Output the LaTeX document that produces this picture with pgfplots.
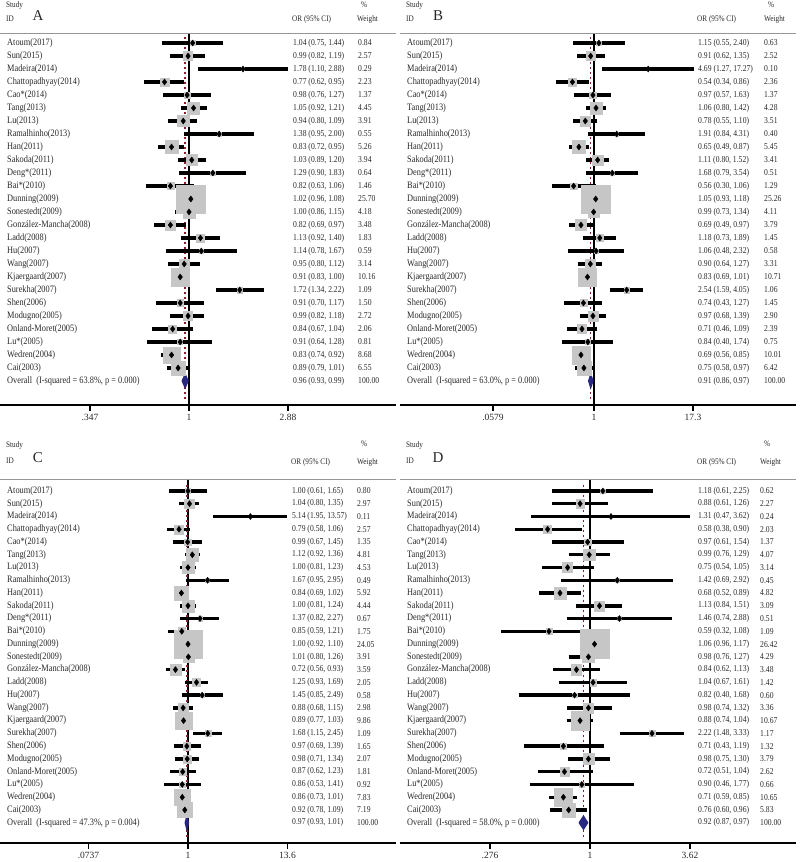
\documentclass[border=0pt]{standalone}
\usepackage{fontspec}
\setmainfont{Liberation Serif}[FakeStretch=0.85]
\newfontfamily\tickfont{Liberation Serif}
\usepackage{pgfplots}
\pgfplotsset{compat=1.18}
\usepackage{pgfplotstable}
\pgfkeys{/pgf/number format/assume math mode=true}
\definecolor{boxgray}{RGB}{198,198,198}
\definecolor{ovnavy}{RGB}{40,40,130}
\definecolor{refred}{RGB}{140,30,45}
\definecolor{txt}{RGB}{40,40,40}
\definecolor{rulegray}{RGB}{150,150,150}
\newcommand\namefont{\fontsize{9.8}{11}\selectfont}
\newcommand\numfont{\fontsize{9}{10}\selectfont}
\newcommand\pn[1]{\pgfmathprintnumber[fixed zerofill,precision=2]{#1}}

\pgfplotstableread{
row name
1 Atoum(2017)
2 Sun(2015)
3 Madeira(2014)
4 Chattopadhyay(2014)
5 Cao*(2014)
6 Tang(2013)
7 Lu(2013)
8 Ramalhinho(2013)
9 Han(2011)
10 Sakoda(2011)
11 Deng*(2011)
12 Bai*(2010)
13 Dunning(2009)
14 Sonestedt(2009)
15 González-Mancha(2008)
16 Ladd(2008)
17 Hu(2007)
18 Wang(2007)
19 Kjaergaard(2007)
20 Surekha(2007)
21 Shen(2006)
22 Modugno(2005)
23 Onland-Moret(2005)
24 Lu*(2005)
25 Wedren(2004)
26 Cai(2003)
}\names

\pgfplotstableread{
row est lo hi w
1 1.04 0.75 1.44 0.84
2 0.99 0.82 1.19 2.57
3 1.78 1.10 2.88 0.29
4 0.77 0.62 0.95 2.23
5 0.98 0.76 1.27 1.37
6 1.05 0.92 1.21 4.45
7 0.94 0.80 1.09 3.91
8 1.38 0.95 2.00 0.55
9 0.83 0.72 0.95 5.26
10 1.03 0.89 1.20 3.94
11 1.29 0.90 1.83 0.64
12 0.82 0.63 1.06 1.46
13 1.02 0.96 1.08 25.70
14 1.00 0.86 1.15 4.18
15 0.82 0.69 0.97 3.48
16 1.13 0.92 1.40 1.83
17 1.14 0.78 1.67 0.59
18 0.95 0.80 1.12 3.14
19 0.91 0.83 1.00 10.16
20 1.72 1.34 2.22 1.09
21 0.91 0.70 1.17 1.50
22 0.99 0.82 1.18 2.72
23 0.84 0.67 1.04 2.06
24 0.91 0.64 1.28 0.81
25 0.83 0.74 0.92 8.68
26 0.89 0.79 1.01 6.55
}\tabA
\pgfplotstableread{
row est lo hi w
27 0.96 0.93 0.99 100.00
}\ovA

\pgfplotstableread{
row est lo hi w
1 1.15 0.55 2.40 0.63
2 0.91 0.62 1.35 2.52
3 4.69 1.27 17.27 0.10
4 0.54 0.34 0.86 2.36
5 0.97 0.57 1.63 1.37
6 1.06 0.80 1.42 4.28
7 0.78 0.55 1.10 3.51
8 1.91 0.84 4.31 0.40
9 0.65 0.49 0.87 5.45
10 1.11 0.80 1.52 3.41
11 1.68 0.79 3.54 0.51
12 0.56 0.30 1.06 1.29
13 1.05 0.93 1.18 25.26
14 0.99 0.73 1.34 4.11
15 0.69 0.49 0.97 3.79
16 1.18 0.73 1.89 1.45
17 1.06 0.48 2.32 0.58
18 0.90 0.64 1.27 3.31
19 0.83 0.69 1.01 10.71
20 2.54 1.59 4.05 1.06
21 0.74 0.43 1.27 1.45
22 0.97 0.68 1.39 2.90
23 0.71 0.46 1.09 2.39
24 0.84 0.40 1.74 0.75
25 0.69 0.56 0.85 10.01
26 0.75 0.58 0.97 6.42
}\tabB
\pgfplotstableread{
row est lo hi w
27 0.91 0.86 0.97 100.00
}\ovB

\pgfplotstableread{
row est lo hi w
1 1.00 0.61 1.65 0.80
2 1.04 0.80 1.35 2.97
3 5.14 1.95 13.57 0.11
4 0.79 0.58 1.06 2.57
5 0.99 0.67 1.45 1.35
6 1.12 0.92 1.36 4.81
7 1.00 0.81 1.23 4.53
8 1.67 0.95 2.95 0.49
9 0.84 0.69 1.02 5.92
10 1.00 0.81 1.24 4.44
11 1.37 0.82 2.27 0.67
12 0.85 0.59 1.21 1.75
13 1.00 0.92 1.10 24.05
14 1.01 0.80 1.26 3.91
15 0.72 0.56 0.93 3.59
16 1.25 0.93 1.69 2.05
17 1.45 0.85 2.49 0.58
18 0.88 0.68 1.15 2.98
19 0.89 0.77 1.03 9.86
20 1.68 1.15 2.45 1.09
21 0.97 0.69 1.39 1.65
22 0.98 0.71 1.34 2.07
23 0.87 0.62 1.23 1.81
24 0.86 0.53 1.41 0.92
25 0.86 0.73 1.01 7.83
26 0.92 0.78 1.09 7.19
}\tabC
\pgfplotstableread{
row est lo hi w
27 0.97 0.93 1.01 100.00
}\ovC

\pgfplotstableread{
row est lo hi w
1 1.18 0.61 2.25 0.62
2 0.88 0.61 1.26 2.27
3 1.31 0.47 3.62 0.24
4 0.58 0.38 0.90 2.03
5 0.97 0.61 1.54 1.37
6 0.99 0.76 1.29 4.07
7 0.75 0.54 1.05 3.14
8 1.42 0.69 2.92 0.45
9 0.68 0.52 0.89 4.82
10 1.13 0.84 1.51 3.09
11 1.46 0.74 2.88 0.51
12 0.59 0.32 1.08 1.09
13 1.06 0.96 1.17 26.42
14 0.98 0.76 1.27 4.29
15 0.84 0.62 1.13 3.48
16 1.04 0.67 1.61 1.42
17 0.82 0.40 1.68 0.60
18 0.98 0.74 1.32 3.36
19 0.88 0.74 1.04 10.67
20 2.22 1.48 3.33 1.17
21 0.71 0.43 1.19 1.32
22 0.98 0.75 1.30 3.79
23 0.72 0.51 1.04 2.62
24 0.90 0.46 1.77 0.66
25 0.71 0.59 0.85 10.65
26 0.76 0.60 0.96 5.83
}\tabD
\pgfplotstableread{
row est lo hi w
27 0.92 0.87 0.97 100.00
}\ovD

\pgfplotsset{
  forest/.style={scale only axis, width=396pt, xmin=0, xmax=396, clip=false,
    anchor=north west,
    axis x line*=bottom, axis y line=none,
    x axis line style={line width=1.8pt, black},
    xtick style={line width=1.6pt, black},
    tick align=outside, major tick length=6pt,
    xticklabel style={font=\tickfont\fontsize{9.5}{10}\selectfont, text=txt},
    y filter/.expression={-y}},
  orx/.style={x filter/.expression={\Cx+\Sx*ln(x)/\Lm}},
  boxes/.style={scatter, only marks, mark=square*,
    scatter/use mapped color={draw=boxgray, fill=boxgray},
    visualization depends on={2.8*sqrt(\thisrow{w}) \as \msz},
    scatter/@pre marker code/.append style={/tikz/mark size=\msz}},
  cilines/.style={mark=none, black, line width=3.4pt, -,
    quiver={u={\Sx*(ln(\thisrow{hi})-ln(\thisrow{lo}))/\Lm}, v=0},
    quiver/every arrow/.append style={line width=3.4pt, -}},
  pts/.style={only marks, mark=diamond*, mark size=3pt, black},
  txtbase/.style={only marks, mark=*, mark size=0pt, mark options={draw=none, fill=none},
    every node near coord/.append style={anchor=west, inner sep=0pt, text=txt}},
  namecol/.style={txtbase, point meta=explicit symbolic, nodes near coords,
    every node near coord/.append style={font=\namefont}},
  orcol/.style={txtbase,
    visualization depends on={\thisrow{est} \as \orv},
    visualization depends on={\thisrow{lo} \as \lov},
    visualization depends on={\thisrow{hi} \as \hiv},
    nodes near coords={\pn{\orv} (\pn{\lov}, \pn{\hiv})},
    every node near coord/.append style={font=\numfont}},
  wcol/.style={txtbase,
    visualization depends on={\thisrow{w} \as \wv},
    nodes near coords={\pn{\wv}},
    every node near coord/.append style={font=\numfont}},
}

\newcommand\panelplots[9]{%
  \addplot[boxes] table[x expr={\Cx+\Sx*ln(\thisrow{est})/\Lm}, y=row]{#1};
  \addplot[orx, black, line width=2pt] coordinates {(1,#6) (1,#7)};
  \addplot[orx, refred, line width=1.6pt, dash pattern=on 2.5pt off 2.5pt] coordinates {(#3,0.5) (#3,#7-0.3)};
  \addplot[cilines] table[x expr={\Cx+\Sx*ln(\thisrow{lo})/\Lm}, y=row]{#1};
  \addplot[pts] table[x expr={\Cx+\Sx*ln(\thisrow{est})/\Lm}, y=row]{#1};
  \addplot[orx, draw=ovnavy, fill=ovnavy, line width=1.4pt] coordinates {(#4,27) (#3,26.5) (#5,27) (#3,27.5) (#4,27)};
  \addplot[namecol] table[x expr=7, y=row, meta=name]{\names};
  \addplot[orcol] table[x expr=#8, y=row]{#1};
  \addplot[orcol] table[x expr=#8, y=row]{#2};
  \addplot[wcol] table[x expr=#9, y=row]{#1};
  \addplot[wcol] table[x expr=#9, y=row]{#2};
}

\begin{document}
\begin{tikzpicture}
\path[use as bounding box] (0pt,0pt) rectangle (800pt,-862pt);

% ---------- A ----------
\def\Cx{189}\def\Sx{99}\def\Lm{1.05779}
\begin{axis}[forest, at={(0pt,0pt)}, height=405pt, ymin=-28.85, ymax=2.31,
  xtick={90,189,288}, xticklabels={.347,1,2.88}]
  \panelplots{\tabA}{\ovA}{0.96}{0.93}{0.99}{0.23}{28.85}{293}{358}
  \node[anchor=west, inner sep=0pt, text=txt, font=\namefont] at (axis cs:7,-27) {Overall\ \ (I-squared = 63.8\%, p = 0.000)};
\end{axis}

% ---------- B ----------
\def\Cx{194}\def\Sx{100}\def\Lm{2.85071}
\begin{axis}[forest, at={(400pt,0pt)}, height=405pt, ymin=-28.85, ymax=2.31,
  xtick={93,194,293}, xticklabels={.0579,1,17.3}]
  \panelplots{\tabB}{\ovB}{0.91}{0.86}{0.97}{0.23}{28.85}{298}{364}
  \node[anchor=west, inner sep=0pt, text=txt, font=\namefont] at (axis cs:7,-27) {Overall\ \ (I-squared = 63.0\%, p = 0.000)};
\end{axis}

% ---------- C ----------
\def\Cx{188}\def\Sx{99.5}\def\Lm{2.61007}
\begin{axis}[forest, at={(0pt,-431pt)}, height=412pt, ymin=-28.59, ymax=3.70,
  xtick={88.5,188,287.5}, xticklabels={.0737,1,13.6}]
  \panelplots{\tabC}{\ovC}{0.97}{0.93}{1.01}{0.06}{28.59}{292}{357}
  \node[anchor=west, inner sep=0pt, text=txt, font=\namefont] at (axis cs:7,-27) {Overall\ \ (I-squared = 47.3\%, p = 0.004)};
\end{axis}

% ---------- D ----------
\def\Cx{190}\def\Sx{100}\def\Lm{1.28647}
\begin{axis}[forest, at={(400pt,-431pt)}, height=412pt, ymin=-28.59, ymax=3.70,
  xtick={90,190,290}, xticklabels={.276,1,3.62}]
  \panelplots{\tabD}{\ovD}{0.92}{0.87}{0.97}{0.06}{28.59}{298}{360}
  \node[anchor=west, inner sep=0pt, text=txt, font=\namefont] at (axis cs:7,-27) {Overall\ \ (I-squared = 58.0\%, p = 0.000)};
\end{axis}

% ---------- headers ----------
\tikzset{hd/.style={anchor=west, inner sep=0pt, text=txt, font=\fontsize{8.5}{9}\selectfont},
         let/.style={anchor=center, inner sep=0pt, text=txt, font=\tickfont\fontsize{15}{15}\selectfont}}
% A
\node[hd] at (6pt,-5pt) {Study};
\node[hd] at (6pt,-19pt) {ID};
\node[let] at (38pt,-16pt) {A};
\node[hd] at (292pt,-19pt) {OR (95\% CI)};
\node[hd] at (361pt,-5pt) {\%};
\node[hd] at (357pt,-19pt) {Weight};
\draw[rulegray, line width=0.8pt] (0pt,-33pt) -- (396pt,-33pt);
% B
\node[hd] at (406pt,-5pt) {Study};
\node[hd] at (406pt,-19pt) {ID};
\node[let] at (438pt,-16pt) {B};
\node[hd] at (697pt,-19pt) {OR (95\% CI)};
\node[hd] at (768pt,-5pt) {\%};
\node[hd] at (764pt,-19pt) {Weight};
\draw[rulegray, line width=0.8pt] (400pt,-33pt) -- (796pt,-33pt);
% C
\node[hd] at (6pt,-445pt) {Study};
\node[hd] at (6pt,-461pt) {ID};
\node[let] at (38pt,-458pt) {C};
\node[hd] at (291pt,-462pt) {OR (95\% CI)};
\node[hd] at (361pt,-444pt) {\%};
\node[hd] at (357pt,-462pt) {Weight};
\draw[rulegray, line width=0.8pt] (0pt,-479pt) -- (396pt,-479pt);
% D
\node[hd] at (406pt,-445pt) {Study};
\node[hd] at (406pt,-461pt) {ID};
\node[let] at (438pt,-458pt) {D};
\node[hd] at (697pt,-462pt) {OR (95\% CI)};
\node[hd] at (764pt,-444pt) {\%};
\node[hd] at (760pt,-462pt) {Weight};
\draw[rulegray, line width=0.8pt] (400pt,-479pt) -- (796pt,-479pt);
\end{tikzpicture}
\end{document}
